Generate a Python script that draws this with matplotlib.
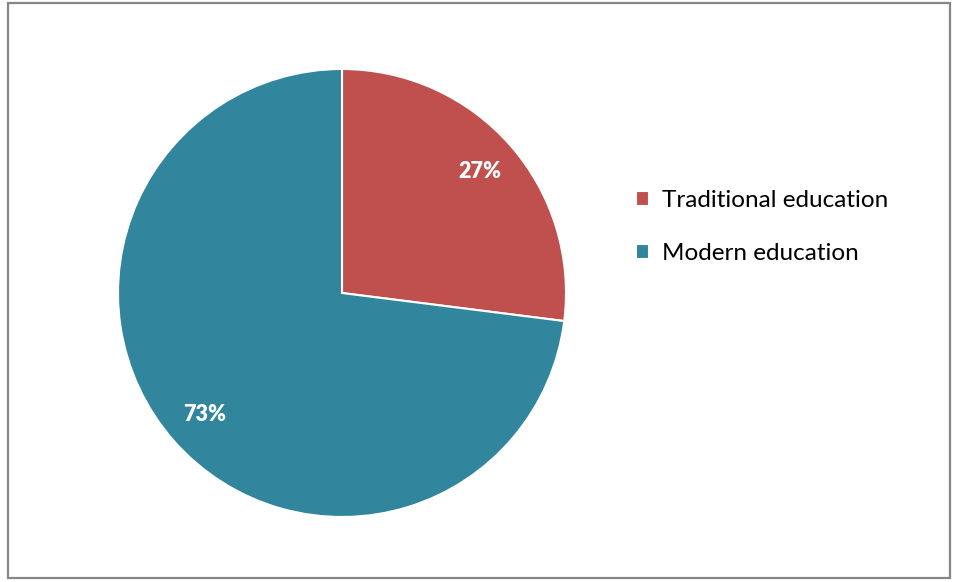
import matplotlib
matplotlib.use("Agg")
import matplotlib.pyplot as plt
from matplotlib.patches import Rectangle

# education split
categories = ["Traditional education", "Modern education"]
shares = [27, 73]
colors = ["#C0504D", "#31859C"]

plt.rcParams["font.family"] = ["Lato", "DejaVu Sans"]

fig = plt.figure(figsize=(9.57, 5.82), dpi=100)
W, H = 957, 582

# outer frame
fig.patches.append(Rectangle((8 / W, 4 / H), 942 / W, 575 / H, transform=fig.transFigure,
                             fill=False, edgecolor="#868686", linewidth=1.6))

ax = fig.add_axes([118 / W, 65 / H, 448 / W, 448 / H])
wedges, texts = ax.pie(shares, colors=colors, startangle=90, counterclock=False,
                       wedgeprops=dict(edgecolor="white", linewidth=1.5),
                       labels=[f"{v}%" for v in shares], labeldistance=0.82,
                       textprops=dict(color="white", fontsize=15.5, fontweight="heavy",
                                      ha="center", va="center"))
ax.set_aspect("equal")
ax.set_xlim(-1.0, 1.0)
ax.set_ylim(-1.0, 1.0)

fig.legend(wedges, categories, loc="center left", bbox_to_anchor=(626 / W, 1 - 227 / H),
           frameon=False, fontsize=17.5, handlelength=0.55, handleheight=0.55,
           handletextpad=0.55, labelspacing=1.3, borderaxespad=0)

fig.savefig("out.png", dpi=100, facecolor="white")
